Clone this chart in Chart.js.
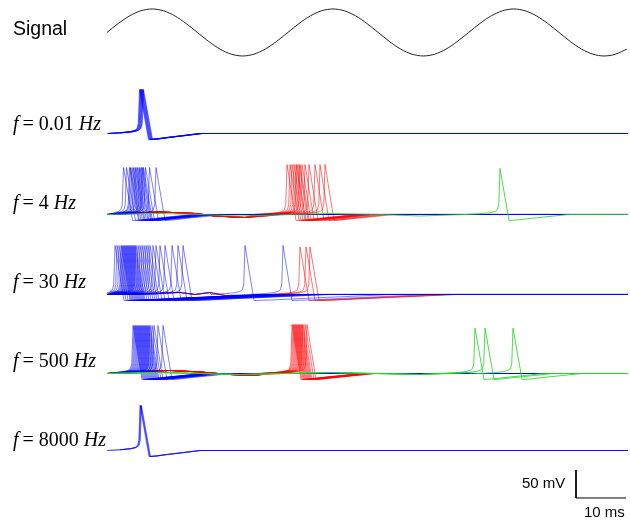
<!DOCTYPE html>
<html><head><meta charset="utf-8">
<script src="https://cdn.jsdelivr.net/npm/chart.js@4.4.0/dist/chart.umd.min.js"></script>
<style>
html,body{margin:0;padding:0;background:#fff;}
#wrap{position:relative;width:630px;height:521px;overflow:hidden;}
canvas{position:absolute;left:0;top:0;}
.lab{position:absolute;white-space:nowrap;line-height:1;color:#000;}
.serif{font-family:"Liberation Serif","Times New Roman",serif;font-size:20px;}
.sans{font-family:"Liberation Sans",Arial,sans-serif;}
</style></head><body>
<div id="wrap"><canvas id="c" width="630" height="521"></canvas>
<div class="lab sans" style="left:13px;top:19px;font-size:19.5px">Signal</div>
<div class="lab serif" style="left:13px;top:113px"><i>f</i>&thinsp;= 0.01 <i>Hz</i></div>
<div class="lab serif" style="left:13px;top:192px"><i>f</i>&thinsp;= 4 <i>Hz</i></div>
<div class="lab serif" style="left:13px;top:271px"><i>f</i>&thinsp;= 30 <i>Hz</i></div>
<div class="lab serif" style="left:13px;top:350px"><i>f</i>&thinsp;= 500 <i>Hz</i></div>
<div class="lab serif" style="left:13px;top:429px"><i>f</i>&thinsp;= 8000 <i>Hz</i></div>
<div class="lab sans" style="left:522px;top:475px;font-size:15px">50 mV</div>
<div class="lab sans" style="left:584px;top:504px;font-size:15px">10 ms</div>
</div>
<script>
// ---- data (time in ms, voltage in mV) ----
const rowNames = ["f = 0.01 Hz", "f = 4 Hz", "f = 30 Hz", "f = 500 Hz", "f = 8000 Hz"];
const rowBaseline = [-238.4, -383.05, -525.9, -667.0, -804.5];
const rowRecovery = [1.1, 1.3, 3.0, 1.3, 1.1];
const traceStart = 21.4, traceEnd = 125.6;

// stimulus signal samples (deviation, mV) every signalStep ms from traceStart
const signalCenter = -58.0, signalStep = 2.26;
const signalV = [0,16.1,29.7,38.8,42.0,38.8,29.7,16.1,0,-16.1,-29.7,-38.8,-42.0,-38.8,-29.7,-16.1,
                 0,16.1,29.7,38.8,42.0,38.8,29.7,16.1,0,-16.1,-29.7,-38.8,-42.0,-38.8,-29.7,-16.1,
                 0,16.1,29.7,38.8,42.0,38.8,29.7,16.1,0,-16.1,-29.7,-38.8,-42.0,-38.8,-29.7];

// action-potential shape (time rel. to peak, mV rel. to baseline); peak value per group
const spikeT = [-6.8,-4,-2,-1,-0.5,-0.25,0,1.8,3,5,8,11];
const spikeV = [0,1.4,3.2,5.4,8.9,17.9,null,-10.7,-9.8,-7.1,-3.6,0];

// subthreshold waves
const wave4RedT = [21.4,26,32,39,43,49,54,58];
const wave4RedV = [0,2.7,4.5,1.8,-2.7,-5.4,-1.8,2.7];
const wave4GreenT = [21.4,32,40,48,58,66,76,84,94,98];
const wave4GreenV = [0,1.8,0,-2.7,0,1.8,0,-2.7,0,1.8];
const wave30T = [21.4,30,36,39,42,45,50,55,58];
const wave30V = [0,1.8,3.6,0,3.6,-1.8,-3.6,0,1.8];
const wave500RedT = [21.4,28,34,40,46,51,56,58];
const wave500RedV = [0,3.6,5.4,2.7,-1.8,-3.6,0,1.8];
const wave500GreenT = [21.4,32,48,66,84,93];
const wave500GreenV = [0,1.8,-1.8,1.8,-1.8,1.8];
const noWave = [];

// spike peak times (ms)
const peaks001Blue = [27.9,28.0,28.1,28.2,28.3,28.4,28.5,28.6,28.7];
const peaks4Blue = [24.7,25.3,25.9,26.1,26.4,26.7,27.0,27.2,27.5,27.8,28.0,28.3,28.5,28.7,29.1,29.9,31.2];
const peaks4Red = [57.4,58.0,58.4,58.8,59.2,59.4,59.8,60.0,60.4,61.0,61.8,63.0,64.0,65.0];
const peaks4Green = [100.0];
const peaks30Blue = [23.0,23.4,23.8,24.2,24.4,24.6,24.8,25.0,25.2,25.4,25.6,25.8,26.0,26.2,26.4,26.6,26.8,27.0,27.2,27.6,28.0,28.4,28.8,29.2,29.6,30.0,30.6,31.2,32.0,33.0,34.4,35.6,36.6,49.0,56.6];
const peaks30Red = [60.0,61.2,62.0];
const peaks500Blue = [26.6,26.8,27.0,27.2,27.4,27.6,27.8,28.0,28.2,28.4,28.6,28.8,29.0,29.2,29.4,29.6,29.8,30.0,30.4,30.8,31.6,32.6];
const peaks500Red = [58.4,58.6,58.8,59.0,59.2,59.4,59.6,59.8,60.0,60.2,60.4,60.6,61.0,61.4];
const peaks500Green = [95.0,97.0,102.6];
const peaks8000Blue = [28.0,28.1,28.2,28.3];

// scale bar: 50 mV vertical, 10 ms horizontal
const scaleBarT = [0, 0, 10];
const scaleBarV = [50, 0, 0];
const scaleBarOrigin = {x: 115.2, y: -889.3};

const COLORS = {blue:'rgba(0,0,255,0.5)', red:'rgba(255,0,0,0.55)', green:'rgba(40,215,40,0.85)'};
const ORDER = {green:0, blue:1, red:2};

const groups = [
  {row:0, color:'blue',  peaks:peaks001Blue,  peakMv:78.6, waveT:noWave, waveV:noWave},
  {row:1, color:'blue',  peaks:peaks4Blue,    peakMv:83.9, waveT:wave4RedT, waveV:wave4RedV},
  {row:1, color:'red',   peaks:peaks4Red,     peakMv:89.3, waveT:wave4RedT, waveV:wave4RedV},
  {row:1, color:'green', peaks:peaks4Green,   peakMv:82.1, waveT:wave4GreenT, waveV:wave4GreenV},
  {row:2, color:'blue',  peaks:peaks30Blue,   peakMv:87.5, waveT:wave30T, waveV:wave30V},
  {row:2, color:'red',   peaks:peaks30Red,    peakMv:85.0, waveT:wave30T, waveV:wave30V},
  {row:3, color:'blue',  peaks:peaks500Blue,  peakMv:85.7, waveT:wave500RedT, waveV:wave500RedV},
  {row:3, color:'red',   peaks:peaks500Red,   peakMv:87.5, waveT:wave500RedT, waveV:wave500RedV},
  {row:3, color:'green', peaks:peaks500Green, peakMv:81.0, waveT:wave500GreenT, waveV:wave500GreenV},
  {row:4, color:'blue',  peaks:peaks8000Blue, peakMv:80.4, waveT:noWave, waveV:noWave}
];

function buildTrace(g, peakT){
  const base = rowBaseline[g.row];
  const pts = [];
  const start = peakT + spikeT[0];
  for (let i = 0; i < g.waveT.length; i++) {
    if (g.waveT[i] < start) pts.push({x:g.waveT[i], y:base + g.waveV[i]});
  }
  for (let j = 0; j < spikeT.length; j++) {
    let t = spikeT[j];
    if (t > 1.8) t = 1.8 + (t - 1.8) * rowRecovery[g.row];
    const x = peakT + t;
    if (x < traceStart) continue;
    const v = spikeV[j] === null ? g.peakMv : spikeV[j];
    pts.push({x:x, y:base + v});
  }
  pts.push({x:traceEnd, y:base});
  return pts;
}

const datasets = [];
const sig = signalV.map((v, i) => ({x: traceStart + i * signalStep, y: signalCenter + v}));
datasets.push({label:'Signal', data:sig, borderColor:'#222', borderWidth:1, showLine:true, pointRadius:0, tension:0.3, order:3});
groups.forEach(g => {
  g.peaks.forEach(p => {
    datasets.push({label:rowNames[g.row], data:buildTrace(g, p), borderColor:COLORS[g.color], borderWidth:1,
      showLine:true, pointRadius:0, tension:0, order:ORDER[g.color]});
  });
});
datasets.push({label:'scale', data:scaleBarT.map((t, i) => ({x: scaleBarOrigin.x + t, y: scaleBarOrigin.y + scaleBarV[i]})),
  borderColor:'#000', borderWidth:1, showLine:true, pointRadius:0, tension:0, order:0});

new Chart(document.getElementById('c'), {
  type:'scatter',
  data:{datasets:datasets},
  options:{
    animation:false, responsive:false, devicePixelRatio:1, events:[],
    layout:{padding:0},
    plugins:{legend:{display:false}, tooltip:{enabled:false}, title:{display:false}},
    scales:{
      x:{type:'linear', min:0, max:126, display:false},
      y:{type:'linear', min:-930.4, max:0, display:false}
    }
  }
});
</script>
</body></html>
